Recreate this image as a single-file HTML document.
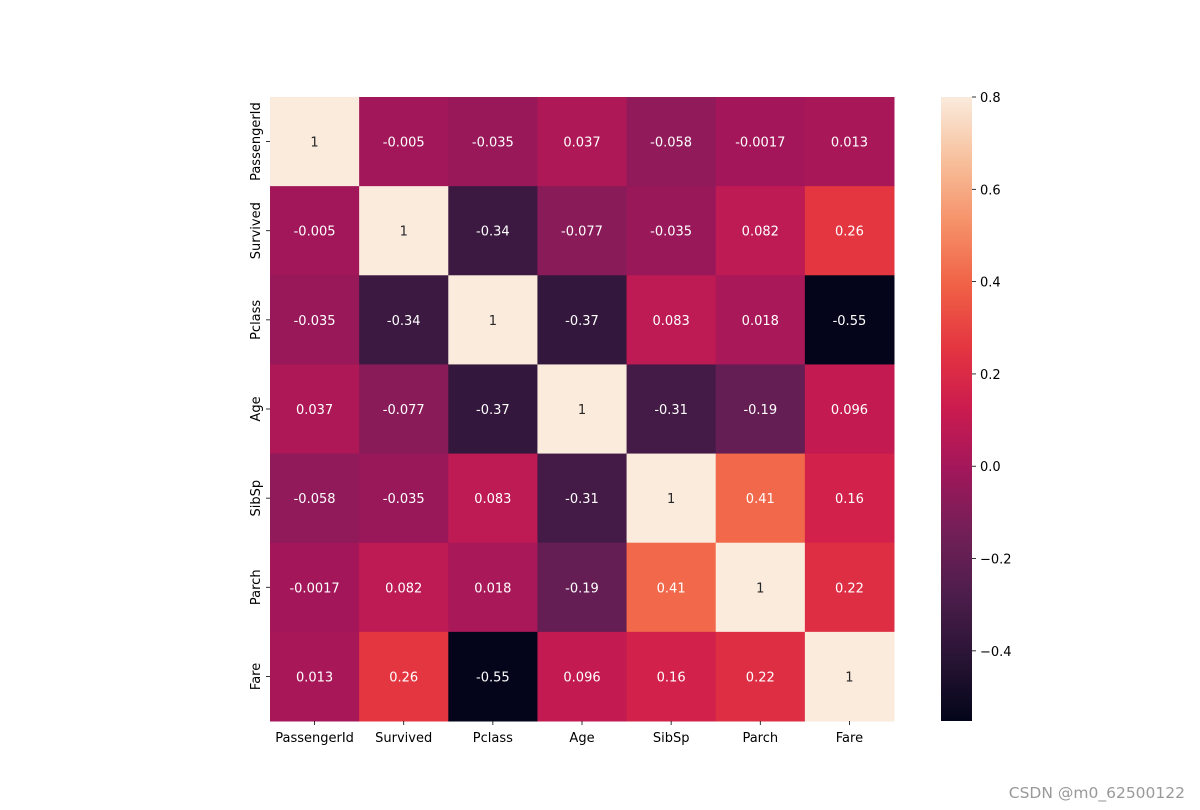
<!DOCTYPE html>
<html><head><meta charset="utf-8">
<style>
html,body{margin:0;padding:0;background:#fff;width:1200px;height:810px;overflow:hidden;}
svg{display:block;}
svg text{font-family:"DejaVu Sans","Liberation Sans",sans-serif;}
</style></head>
<body>
<svg id="chart" width="1200" height="810" xmlns="http://www.w3.org/2000/svg">
<text x="1185" y="798" font-size="15.5" fill="#999" text-anchor="end">CSDN @m0_62500122</text>
</svg>
<script>
const labels = ["PassengerId","Survived","Pclass","Age","SibSp","Parch","Fare"];
const matrix = [
 [1,-0.005,-0.035,0.037,-0.058,-0.0017,0.013],
 [-0.005,1,-0.34,-0.077,-0.035,0.082,0.26],
 [-0.035,-0.34,1,-0.37,0.083,0.018,-0.55],
 [0.037,-0.077,-0.37,1,-0.31,-0.19,0.096],
 [-0.058,-0.035,0.083,-0.31,1,0.41,0.16],
 [-0.0017,0.082,0.018,-0.19,0.41,1,0.22],
 [0.013,0.26,-0.55,0.096,0.16,0.22,1]
];
const cbTicks = [0.8,0.6,0.4,0.2,0.0,-0.2,-0.4];
const vmin = -0.552, vmax = 0.8;

const NS="http://www.w3.org/2000/svg";
const svg=document.getElementById('chart');
const X0=270,Y0=97,W=624,H=624;
const n=labels.length, cw=W/n, ch=H/n;
const stops=[[0,[3,5,26]],[0.1,[40,20,52]],[0.2,[76,29,75]],[0.3,[113,31,87]],[0.4,[160,23,91]],[0.5,[203,27,79]],[0.6,[228,54,64]],[0.7,[240,98,70]],[0.8,[245,146,106]],[0.9,[247,192,157]],[1,[250,235,221]]];
function cmap(v){
  let t=(v-vmin)/(vmax-vmin); t=Math.max(0,Math.min(1,t));
  for(let i=1;i<stops.length;i++){
    if(t<=stops[i][0]){const a=stops[i-1],b=stops[i];const f=(t-a[0])/(b[0]-a[0]);
      return a[1].map((c,k)=>Math.round(c+(b[1][k]-c)*f));}
  }
  return stops[stops.length-1][1];
}
function lin(c){c/=255;return c<=0.03928?c/12.92:Math.pow((c+0.055)/1.055,2.4);}
function el(tag,attrs){const e=document.createElementNS(NS,tag);for(const k in attrs)e.setAttribute(k,attrs[k]);svg.appendChild(e);return e;}
for(let r=0;r<n;r++)for(let c=0;c<n;c++){
  const v=matrix[r][c];const col=cmap(v);
  const rect=el('rect',{x:X0+c*cw,y:Y0+r*ch,width:cw+0.5,height:ch+0.5,fill:`rgb(${col})`});
  
  
  const lum=0.2126*lin(col[0])+0.7152*lin(col[1])+0.0722*lin(col[2]);
  const t=el('text',{x:X0+c*cw+cw/2,y:Y0+r*ch+ch/2+5,'font-size':13,'text-anchor':'middle',fill:lum>0.408?'#262626':'#fff'});
  t.textContent=String(v);
  
  
}
for(let i=0;i<n;i++){
  const xc=X0+i*cw+cw/2;
  el('line',{x1:xc,x2:xc,y1:Y0+H,y2:Y0+H+4,stroke:'#000','stroke-width':0.8});
  const t=el('text',{x:xc,y:Y0+H+21,'font-size':13,'text-anchor':'middle',fill:'#000'});
  t.textContent=labels[i];
  
  
  const yc=Y0+i*ch+ch/2;
  el('line',{x1:X0-4,x2:X0,y1:yc,y2:yc,stroke:'#000','stroke-width':0.8});
  const ty=el('text',{x:0,y:0,'font-size':13,'text-anchor':'middle',fill:'#000',transform:`translate(${X0-10},${yc}) rotate(-90)`});
  ty.textContent=labels[i];
  
  
}
const CX=941,CW=31;
const defs=el('defs',{});
const g=document.createElementNS(NS,'linearGradient');g.setAttribute('id','cbg');g.setAttribute('x1','0');g.setAttribute('x2','0');g.setAttribute('y1','1');g.setAttribute('y2','0');
defs.appendChild(g);
for(let i=0;i<=40;i++){const v=vmin+(vmax-vmin)*i/40;const s=document.createElementNS(NS,'stop');s.setAttribute('offset',i/40);s.setAttribute('stop-color',`rgb(${cmap(v)})`);g.appendChild(s);}
const cb=el('rect',{x:CX,y:Y0,width:CW,height:H,fill:'url(#cbg)'});


function cy(v){return Y0+(vmax-v)/(vmax-vmin)*H;}
cbTicks.forEach(v=>{
  const y=cy(v);
  el('line',{x1:CX+CW,x2:CX+CW+4,y1:y,y2:y,stroke:'#000','stroke-width':0.8});
  const t=el('text',{x:CX+CW+8,y:y+5,'font-size':13,fill:'#000'});
  t.textContent=(v<0?'\u2212':'')+Math.abs(v).toFixed(1);
  
  
});
</script>
</body></html>
